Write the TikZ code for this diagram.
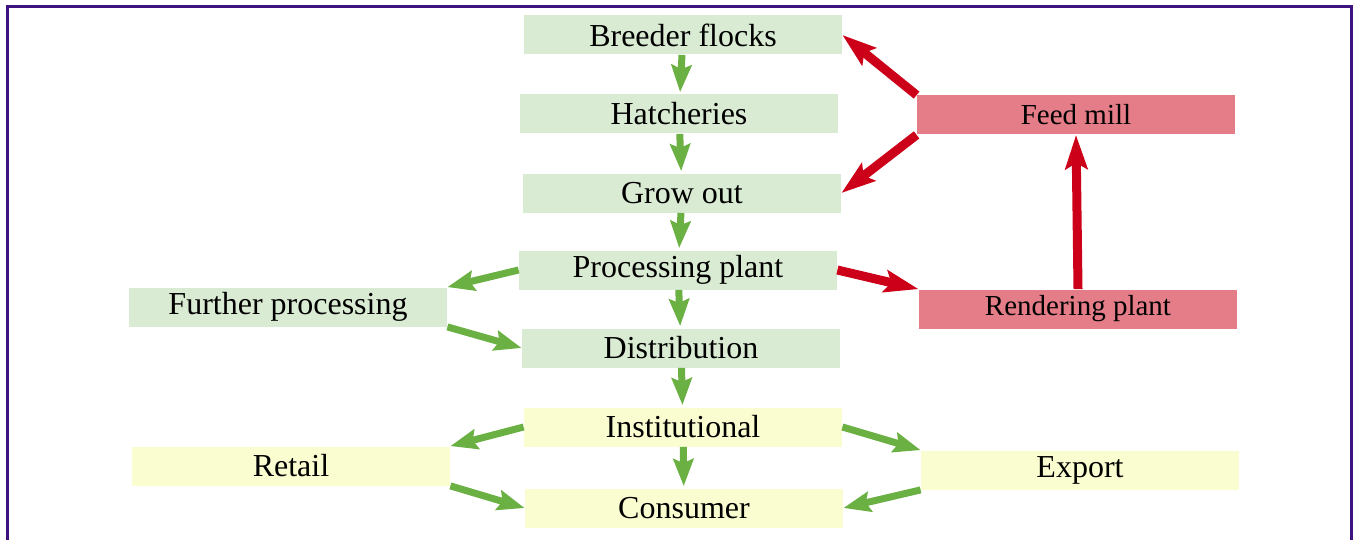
\documentclass[tikz,border=0pt]{standalone}
\usepackage{fontspec}
\setmainfont{Liberation Serif}
\usetikzlibrary{arrows.meta}
\definecolor{gbox}{HTML}{DAEBD3}
\definecolor{ybox}{HTML}{FAFDD0}
\definecolor{rbox}{HTML}{E47D87}
\definecolor{garr}{HTML}{6AB043}
\definecolor{rarr}{HTML}{CC0019}
\definecolor{frame}{HTML}{3E1380}
\tikzset{
  box/.style={minimum width=159pt, minimum height=19.5pt, inner sep=0pt,
    font=\fontsize{16}{19}\selectfont},
  gnode/.style={box, fill=gbox},
  ynode/.style={box, fill=ybox},
  rnode/.style={box, fill=rbox, font=\fontsize{14.5}{17}\selectfont},
  garrow/.style={draw=garr, line width=3.5pt,
    -{Stealth[length=13.5pt,width=10pt,inset=2pt]}},
  rarrow/.style={draw=rarr, line width=4.5pt,
    -{Stealth[length=17pt,width=11pt,inset=3pt]}},
}
\begin{document}
\begin{tikzpicture}[x=0.5pt,y=-0.5pt]
\useasboundingbox (0,0) rectangle (1354,540);
\draw[frame, line width=1.5pt] (7,560) -- (7,7) -- (1351,7) -- (1351,560);

\node[gnode] (breeder) at (683,35) {Breeder flocks};
\node[gnode] (hatch) at (679,114) {Hatcheries};
\node[gnode] (grow) at (682,193) {Grow out};
\node[gnode] (proc) at (678,270) {Processing plant};
\node[gnode] (dist) at (681,348) {Distribution};
\node[gnode] (further) at (288,307) {Further processing};
\node[ynode] (inst) at (683,427) {Institutional};
\node[ynode] (cons) at (684,508) {Consumer};
\node[ynode] (retail) at (291,466) {Retail};
\node[ynode] (export) at (1080,470) {Export};
\node[rnode] (feed) at (1076,115) {Feed mill};
\node[rnode] (rend) at (1078,309) {Rendering plant};

\draw[garrow, shorten >=1pt] (breeder) -- (hatch);
\draw[garrow, shorten >=1pt] (hatch) -- (grow);
\draw[garrow, shorten >=1pt] (grow) -- (proc);
\draw[garrow, shorten >=1pt] (proc) -- (dist);
\draw[garrow, shorten >=1pt] (dist) -- (inst);
\draw[garrow, shorten >=1pt] (inst) -- (cons);

\draw[garrow] (proc.west) -- (further.north east);
\draw[garrow] (further.south east) -- (dist.west);
\draw[garrow] (inst.west) -- (retail.north east);
\draw[garrow] (retail.south east) -- (cons.west);
\draw[garrow] (inst.east) -- (export.north west);
\draw[garrow] (export.south west) -- (cons.east);

\draw[rarrow] (feed.north west) -- (breeder.east);
\draw[rarrow] (feed.south west) -- (grow.east);
\draw[rarrow] (rend.north) -- (feed.south);
\draw[rarrow] (proc.east) -- (rend.north west);
\end{tikzpicture}
\end{document}
